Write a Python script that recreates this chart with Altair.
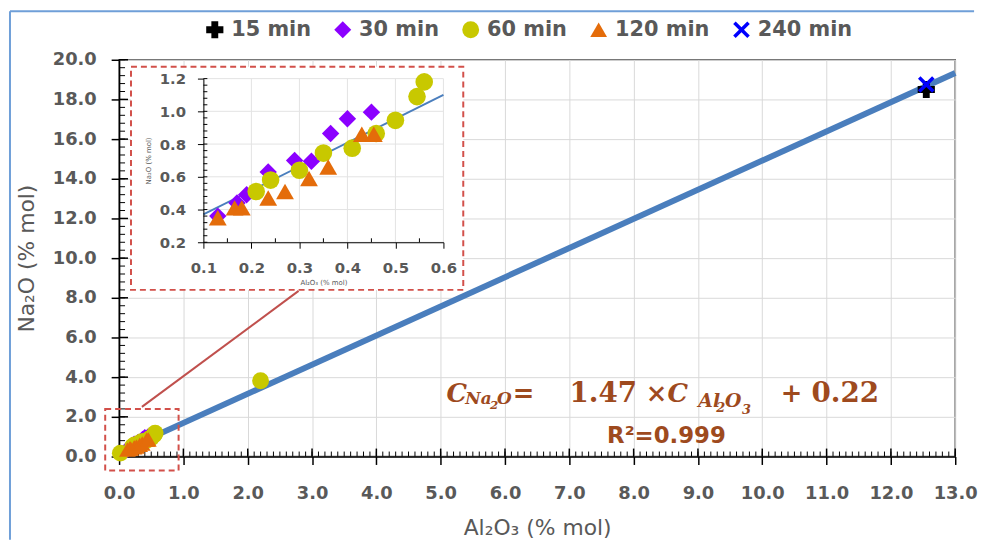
import altair as alt
import pandas as pd

# ---------------- data ----------------
series = ["15 min", "30 min", "60 min", "120 min", "240 min"]
colors = ["#000000", "#8B00FF", "#C8C800", "#E46C0A", "#0000FF"]
X_PATH = "M-1,-0.7L-0.7,-1L0,-0.3L0.7,-1L1,-0.7L0.3,0L1,0.7L0.7,1L0,0.3L-0.7,1L-1,0.7L-0.3,0Z"
shapes = ["cross", "diamond", "circle", "triangle-up", X_PATH]

x15 = [12.55]
y15 = [18.5]
x30 = [0.13, 0.17, 0.19, 0.235, 0.29, 0.325, 0.365, 0.40, 0.45]
y30 = [0.36, 0.44, 0.49, 0.63, 0.70, 0.695, 0.865, 0.955, 0.995]
x60 = [0.02, 0.21, 0.24, 0.30, 0.35, 0.41, 0.46, 0.50, 0.545, 0.56, 2.2]
y60 = [0.17, 0.51, 0.58, 0.64, 0.745, 0.775, 0.865, 0.945, 1.09, 1.18, 3.82]
x120 = [0.13, 0.165, 0.18, 0.235, 0.27, 0.32, 0.36, 0.43, 0.455]
y120 = [0.35, 0.41, 0.41, 0.47, 0.51, 0.59, 0.66, 0.86, 0.86]
x240 = [12.55]
y240 = [18.75]

fit_x = [0.0, 13.0]
fit_y = [0.22, 19.33]
inset_fit_x = [0.1, 0.6]
inset_fit_y = [0.37, 1.10]

main_x_ticks = [i * 1.0 for i in range(14)]
main_y_ticks = [i * 2.0 for i in range(11)]
main_x_minor = [round(i * 0.1, 1) for i in range(131)]
main_y_minor = [round(i * 0.4, 1) for i in range(51)]
inset_x_ticks = [0.1, 0.2, 0.3, 0.4, 0.5, 0.6]
inset_y_ticks = [0.2, 0.4, 0.6, 0.8, 1.0, 1.2]
inset_x_minor = [0.15, 0.25, 0.35, 0.45, 0.55]
inset_y_minor = [round(0.2 + i * 0.04, 2) for i in range(26)]

main_sizes = [300, 280, 340, 300, 420]
inset_sizes = [300, 330, 520, 420, 400]

# ---------------- frames ----------------
rows = []
for name, xs, ys in [("15 min", x15, y15), ("30 min", x30, y30), ("60 min", x60, y60),
                     ("120 min", x120, y120), ("240 min", x240, y240)]:
    for a, b in zip(xs, ys):
        rows.append({"series": name, "x": a, "y": b})
pts = pd.DataFrame(rows)
inset_pts = pts[(pts.x >= 0.1) & (pts.x <= 0.6) & (pts.y >= 0.2) & (pts.y <= 1.2)]
fit = pd.DataFrame({"x": fit_x, "y": fit_y})
inset_fit = pd.DataFrame({"x": inset_fit_x, "y": inset_fit_y})

TXT = "#595959"
FONT = "DejaVu Sans"
LINE = "#4A7EBD"
RED = "#D2504A"
EQ = "#9E4A1E"

# ---------------- main axes / scales ----------------
xs_main = alt.Scale(domain=[0, 13], nice=False, zero=False)
ys_main = alt.Scale(domain=[0, 20], nice=False, zero=False)
common_axis = dict(grid=True, gridColor="#D9D9D9", domainColor="#000000", domainWidth=1.5,
                   tickColor="#000000", tickSize=8, tickWidth=1.5, labelFlush=False,
                   labelOverlap=False, labelFont=FONT, labelFontSize=18, labelFontWeight="bold",
                   labelColor=TXT, titleFont=FONT, titleFontSize=22, titleFontWeight="normal",
                   titleColor=TXT)
x_axis = alt.Axis(values=main_x_ticks, format=".1f", title="Al₂O₃ (% mol)",
                  labelPadding=20, titlePadding=16, **common_axis)
y_axis = alt.Axis(values=main_y_ticks, format=".1f", title="Na₂O (% mol)",
                  labelPadding=15, titlePadding=14, **common_axis)

X = alt.X("x:Q", scale=xs_main, axis=x_axis)
Y = alt.Y("y:Q", scale=ys_main, axis=y_axis)

fit_line = alt.Chart(fit).mark_line(color=LINE, strokeWidth=6).encode(x=X, y=Y)

main_points = alt.Chart(pts).mark_point(filled=True, opacity=1, strokeWidth=0).encode(
    x=X, y=Y,
    color=alt.Color("series:N", scale=alt.Scale(domain=series, range=colors),
                    legend=alt.Legend(orient="none", legendX=86, legendY=-41, direction="horizontal",
                                      title=None, labelFont=FONT, labelFontSize=21,
                                      labelFontWeight="bold", labelColor=TXT, symbolSize=260,
                                      symbolStrokeWidth=0, labelOffset=6, columnPadding=21,
                                      padding=0)),
    shape=alt.Shape("series:N", scale=alt.Scale(domain=series, range=shapes)),
    size=alt.Size("series:N", scale=alt.Scale(domain=series, range=main_sizes), legend=None),
)

x_minor = alt.Chart(pd.DataFrame({"x": main_x_minor})).mark_rule(color="#000000", strokeWidth=1).encode(
    x=X, y=alt.value(400), y2=alt.value(395))
x_major_in = alt.Chart(pd.DataFrame({"x": main_x_ticks})).mark_rule(color="#000000", strokeWidth=1.5).encode(
    x=X, y=alt.value(400), y2=alt.value(392))
y_minor = alt.Chart(pd.DataFrame({"y": main_y_minor})).mark_rule(color="#000000", strokeWidth=1).encode(
    y=Y, x=alt.value(0), x2=alt.value(6))
y_major_in = alt.Chart(pd.DataFrame({"y": main_y_ticks})).mark_rule(color="#000000", strokeWidth=1.5).encode(
    y=Y, x=alt.value(0), x2=alt.value(9))

# decorations (pixel positions relative to the plot area)
border_top = alt.Chart(pd.DataFrame({"k": [0]})).mark_rule(color="#6F9FD8", strokeWidth=2).encode(
    x=alt.value(-110), x2=alt.value(862), y=alt.value(-49))
border_left = alt.Chart(pd.DataFrame({"k": [0]})).mark_rule(color="#6F9FD8", strokeWidth=2).encode(
    x=alt.value(-110), y=alt.value(-49), y2=alt.value(484))
inset_box = alt.Chart(pd.DataFrame({"k": [0]})).mark_rect(
    fill="white", stroke=RED, strokeWidth=2, strokeDash=[6, 4]).encode(
    x=alt.value(12), x2=alt.value(347), y=alt.value(7), y2=alt.value(232))
origin_box = alt.Chart(pd.DataFrame({"k": [0]})).mark_rect(
    fill=None, fillOpacity=0, stroke=RED, strokeWidth=2, strokeDash=[6, 4]).encode(
    x=alt.value(-14), x2=alt.value(60), y=alt.value(352), y2=alt.value(414))
connector = alt.Chart(pd.DataFrame({"k": [0]})).mark_rule(color="#C0504D", strokeWidth=2).encode(
    x=alt.value(23), y=alt.value(350), x2=alt.value(181), y2=alt.value(233))

def eq_text(txt, x, y, size, font="DejaVu Serif", style="italic", weight="bold"):
    return alt.Chart(pd.DataFrame({"t": [txt]})).mark_text(
        align="left", baseline="alphabetic", font=font, fontSize=size, fontStyle=style,
        fontWeight=weight, color=EQ).encode(text="t:N", x=alt.value(x), y=alt.value(y))

eq = [
    eq_text("C", 330, 345, 26),
    eq_text("Na", 349, 347, 17),
    eq_text("2", 374, 352, 12),
    eq_text("O", 381, 347, 17),
    eq_text("=", 397, 345, 26, style="normal"),
    eq_text("1.47", 454, 345, 28, style="normal"),
    eq_text("×", 531, 345, 26, style="normal"),
    eq_text("C", 553, 345, 26),
    eq_text("Al", 584, 350, 19),
    eq_text("2", 602, 355, 13),
    eq_text("O", 611, 350, 19),
    eq_text("3", 628, 357, 13),
    eq_text("+", 667, 345, 26, style="normal"),
    eq_text("0.22", 698, 345, 28, style="normal"),
    eq_text("R²=0.999", 492, 386, 23, font=FONT, style="normal"),
]

main = alt.layer(border_top, border_left, fit_line, x_minor, x_major_in, y_minor, y_major_in,
                 main_points, inset_box, connector, origin_box, *eq)

# ---------------- inset ----------------
xs_in = alt.Scale(domain=[0.1, 0.6], range=[85, 327], nice=False, zero=False)
ys_in = alt.Scale(domain=[0.2, 1.2], range=[184, 19], nice=False, zero=False)
inset_axis = dict(grid=False, domainColor="#000000", tickColor="#000000", tickSize=6,
                  labelFlush=False, labelOverlap=False, labelFont=FONT, labelFontSize=15,
                  labelFontWeight="bold", labelColor=TXT, titleFont=FONT, titleFontSize=7,
                  titleFontWeight="normal", titleColor=TXT, zindex=2)
ix_axis = alt.Axis(values=inset_x_ticks, format=".1f", title="Al₂O₃ (% mol)", orient="bottom",
                   offset=-216, labelPadding=12, titlePadding=4, **inset_axis)
iy_axis = alt.Axis(values=inset_y_ticks, title="Na₂O (% mol)", orient="left",
                   offset=-85, labelPadding=12, titlePadding=8, **inset_axis)
IX = alt.X("x:Q", scale=xs_in, axis=ix_axis)
IY = alt.Y("y:Q", scale=ys_in, axis=iy_axis)

igrid_v = alt.Chart(pd.DataFrame({"x": inset_x_ticks})).mark_rule(color="#E3E3E3", strokeWidth=1).encode(
    x=IX, y=alt.datum(0.2, scale=ys_in, axis=iy_axis), y2=alt.datum(1.2))
igrid_h = alt.Chart(pd.DataFrame({"y": inset_y_ticks})).mark_rule(color="#E3E3E3", strokeWidth=1).encode(
    y=IY, x=alt.datum(0.1, scale=xs_in, axis=ix_axis), x2=alt.datum(0.6))
ix_minor = alt.Chart(pd.DataFrame({"x": inset_x_minor})).mark_rule(color="#000000", strokeWidth=1).encode(
    x=IX, y=alt.value(184), y2=alt.value(180))
iy_minor = alt.Chart(pd.DataFrame({"y": inset_y_minor})).mark_rule(color="#000000", strokeWidth=1).encode(
    y=IY, x=alt.value(85), x2=alt.value(89))
ifit = alt.Chart(inset_fit).mark_line(color=LINE, strokeWidth=2).encode(x=IX, y=IY)
ipoints = alt.Chart(inset_pts).mark_point(filled=True, opacity=1, strokeWidth=0).encode(
    x=IX, y=IY,
    color=alt.Color("series:N", scale=alt.Scale(domain=series, range=colors), legend=None),
    shape=alt.Shape("series:N", scale=alt.Scale(domain=series, range=shapes), legend=None),
    size=alt.Size("series:N", scale=alt.Scale(domain=series, range=inset_sizes), legend=None),
)

inset = alt.layer(igrid_v, igrid_h, ix_minor, iy_minor, ifit, ipoints)

chart = alt.layer(main, inset).resolve_scale(
    x="independent", y="independent", color="independent", shape="independent", size="independent"
).properties(
    width=843, height=400,
    autosize=alt.AutoSizeParams(type="none"),
    padding={"left": 112, "top": 50, "right": 28, "bottom": 84},
).configure_view(stroke="#595959", strokeWidth=1.5)

chart.save("out.html", embed_options={"renderer": "svg", "actions": False})
